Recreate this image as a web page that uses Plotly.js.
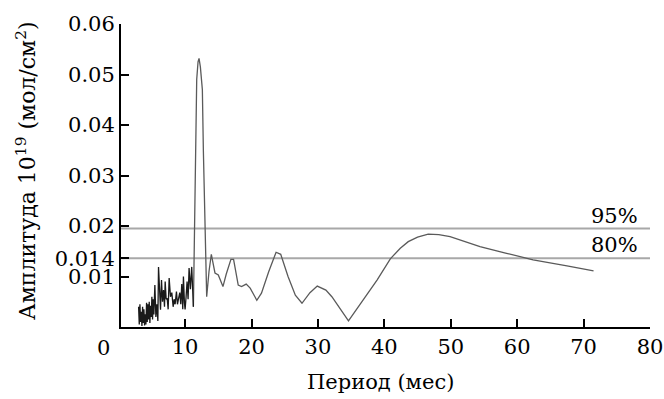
<!DOCTYPE html>
<html>
<head>
<meta charset="utf-8">
<script src="https://cdn.plot.ly/plotly-3.0.1.min.js"></script>
<style>html,body{margin:0;padding:0;background:#fff;}#chart{width:664px;height:399px;}</style>
</head>
<body>
<div id="chart"></div>
<script>
// Period (months)
var period = [3.0,3.1,3.2,3.3,3.4,3.5,3.6,3.7,3.8,3.9,4.0,4.1,4.2,4.3,4.4,4.5,4.6,4.7,4.8,4.9,
  5.0,5.1,5.2,5.3,5.45,5.6,5.75,5.9,6.0,6.1,6.2,6.3,6.45,6.6,6.75,6.9,7.0,7.15,7.3,7.45,
  7.6,7.8,8.0,8.2,8.35,8.5,8.7,8.85,9.0,9.2,9.35,9.5,9.65,9.75,9.9,10.0,10.15,10.3,10.45,10.6,
  10.8,11.0,11.25,11.5,11.75,11.95,12.1,12.3,12.6,12.75,13.25,13.6,13.95,14.5,15.0,15.7,16.2,16.9,17.3,18.0,
  18.5,19.2,19.8,20.8,21.5,22.6,23.7,24.4,25.5,26.6,27.6,28.8,29.9,31.2,32.1,34.6,36.8,38.9,40.9,42.4,
  43.6,45.0,46.6,48.2,49.9,52.0,54.4,58.4,62.4,67.5,71.5];
// Amplitude 10^19 (mol/cm^2)
var amplitude = [0.004,0.0005,0.0045,0.001,0.003,0.0002,0.004,0.0008,0.0035,0.0003,0.0025,0.0005,0.0048,0.001,0.0045,0.0015,0.005,0.0008,0.0042,0.002,
  0.006,0.0015,0.0055,0.0025,0.0083,0.002,0.0045,0.0012,0.0119,0.0075,0.004,0.0034,0.0093,0.005,0.0073,0.004,0.009,0.0055,0.0057,0.0035,
  0.0097,0.006,0.0068,0.004,0.0055,0.0045,0.007,0.0045,0.0055,0.0068,0.0045,0.0085,0.0035,0.01,0.0048,0.0035,0.006,0.009,0.0055,0.0117,
  0.0075,0.0119,0.004,0.03,0.049,0.0525,0.0532,0.0515,0.047,0.035,0.006,0.011,0.0144,0.0107,0.0103,0.008,0.0105,0.0134,0.0134,0.0083,
  0.008,0.0085,0.0077,0.0053,0.0067,0.011,0.0148,0.0144,0.010,0.0063,0.0047,0.0068,0.0081,0.0073,0.006,0.0012,0.0053,0.0093,0.0135,0.0156,
  0.0169,0.0178,0.0184,0.0183,0.0179,0.0169,0.0159,0.0146,0.0133,0.0121,0.0111];

var levelNames = ["95%", "80%"];
var levelValues = [0.0195, 0.0136];

var xTickVals = [10,20,30,40,50,60,70,80];
var yTickVals = [0.0136, 0.01, 0.02, 0.03, 0.04, 0.05, 0.06];
var yTickText = ["0.014", "0.01", "0.02", "0.03", "0.04", "0.05", "0.06"];

var FONT = "'DejaVu Serif', serif";
var FS = 21;
var xr = [0.35, 80];
var NOISE_END = 63; // index where the dense short-period part ends

var traces = [];
for (var i = 0; i < levelValues.length; i++) {
  traces.push({x: xr, y: [levelValues[i], levelValues[i]], mode: "lines",
    line: {color: "#a8a8a8", width: 2}, hoverinfo: "skip", showlegend: false});
}
traces.push({x: period.slice(NOISE_END - 1), y: amplitude.slice(NOISE_END - 1), mode: "lines",
  line: {color: "#5a5a5a", width: 1.3}, showlegend: false});
traces.push({x: period.slice(0, NOISE_END), y: amplitude.slice(0, NOISE_END), mode: "lines",
  line: {color: "#1a1a1a", width: 1.3}, showlegend: false});

var annotations = [];
for (var j = 0; j < levelNames.length; j++) {
  annotations.push({x: 78.5, y: levelValues[j], xref: "x", yref: "y", text: levelNames[j],
    showarrow: false, xanchor: "right", yanchor: "bottom", yshift: -1, font: {family: FONT, size: FS, color: "#000"}});
}
annotations.push({x: (103 - 121) / 529, y: (327 - 348) / 303, xref: "paper", yref: "paper", text: "0",
  showarrow: false, xanchor: "center", yanchor: "middle", font: {family: FONT, size: FS, color: "#000"}});
annotations.push({x: (26 - 121) / 529, y: (327 - 171) / 303, xref: "paper", yref: "paper",
  text: "Амплитуда 10<sup>19</sup> (мол/см<sup>2</sup>)", textangle: -90,
  showarrow: false, xanchor: "center", yanchor: "middle", font: {family: FONT, size: 22, color: "#000"}});
annotations.push({x: (380 - 121) / 529, y: (327 - 382) / 303, xref: "paper", yref: "paper", text: "Период (мес)",
  showarrow: false, xanchor: "center", yanchor: "middle", font: {family: FONT, size: FS, color: "#000"}});

var layout = {
  width: 664, height: 399,
  margin: {l: 121, r: 14, t: 24, b: 72},
  paper_bgcolor: "#fff", plot_bgcolor: "#fff",
  font: {family: FONT, size: FS, color: "#000"},
  xaxis: {range: xr, tickvals: xTickVals, ticks: "inside", ticklen: 8, tickwidth: 2, tickcolor: "#000",
    showline: true, linecolor: "#000", linewidth: 2, showgrid: false, zeroline: false,
    tickfont: {family: FONT, size: FS, color: "#000"}},
  yaxis: {range: [0, 0.06], tickvals: yTickVals, ticktext: yTickText, ticks: "inside", ticklen: 8, tickwidth: 2, tickcolor: "#000",
    showline: true, linecolor: "#000", linewidth: 2, showgrid: false, zeroline: false,
    tickfont: {family: FONT, size: FS, color: "#000"}},
  annotations: annotations
};

Plotly.newPlot("chart", traces, layout, {displayModeBar: false, staticPlot: true});
</script>
</body>
</html>
